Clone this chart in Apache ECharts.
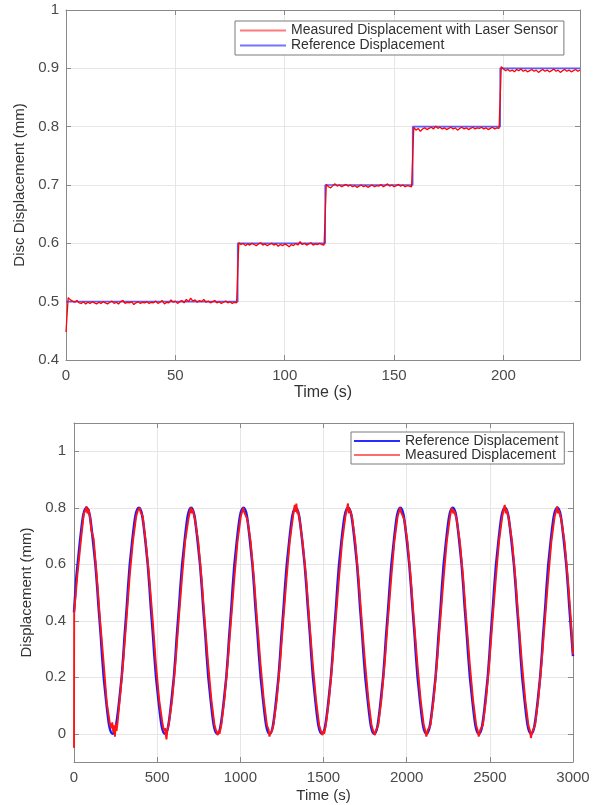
<!DOCTYPE html>
<html>
<head>
<meta charset="utf-8">
<script src="https://cdn.jsdelivr.net/npm/echarts@6/dist/echarts.min.js"></script>
<style>
html,body{margin:0;padding:0;background:#fff;}
#c{width:600px;height:805px;}
</style>
</head>
<body>
<div id="c"></div>
<script>
// ---------- Top chart: step response ----------
const stepSeriesNames = ['Measured Displacement with Laser Sensor', 'Reference Displacement'];
const stepReference = [[0,0.5],[78.5,0.5],[78.5,0.6],[118.5,0.6],[118.5,0.7],[158.5,0.7],[158.5,0.8],[198.5,0.8],[198.5,0.9],[235,0.9]];
// measured samples, one per second starting at t = 0 s
const stepMeasuredSampleSeconds = 1;
const stepMeasured = [
0.448,
0.507,0.503,0.501,0.499,0.502,0.498,0.497,0.500,0.496,0.499,
0.497,0.500,0.498,0.496,0.499,0.497,0.500,0.498,0.496,0.499,
0.501,0.497,0.499,0.496,0.500,0.502,0.497,0.499,0.498,0.500,
0.495,0.498,0.500,0.497,0.499,0.498,0.500,0.497,0.499,0.498,
0.501,0.497,0.499,0.502,0.496,0.499,0.498,0.503,0.499,0.501,
0.497,0.500,0.502,0.498,0.504,0.500,0.506,0.501,0.503,0.499,
0.502,0.500,0.504,0.499,0.501,0.498,0.500,0.502,0.498,0.500,
0.497,0.499,0.501,0.498,0.500,0.497,0.499,0.498,
0.601,0.598,0.600,0.596,0.599,0.597,0.600,0.598,0.596,0.599,
0.601,0.597,0.599,0.596,0.598,0.600,0.597,0.599,0.595,0.598,
0.596,0.599,0.597,0.594,0.598,0.596,0.600,0.597,0.603,0.598,
0.600,0.597,0.599,0.601,0.597,0.599,0.598,0.600,0.598,0.597,
0.701,0.697,0.695,0.699,0.702,0.698,0.700,0.697,0.699,0.701,
0.698,0.700,0.697,0.699,0.696,0.698,0.700,0.697,0.699,0.696,
0.698,0.700,0.697,0.699,0.698,0.701,0.697,0.699,0.702,0.698,
0.700,0.697,0.699,0.701,0.698,0.700,0.697,0.699,0.698,0.697,
0.799,0.794,0.797,0.792,0.796,0.798,0.795,0.797,0.799,0.796,
0.801,0.797,0.799,0.796,0.798,0.795,0.797,0.799,0.796,0.798,
0.794,0.797,0.799,0.796,0.798,0.795,0.797,0.799,0.796,0.798,
0.797,0.799,0.796,0.798,0.795,0.797,0.799,0.796,0.798,0.797,
0.903,0.899,0.896,0.898,0.895,0.897,0.894,0.898,0.896,0.899,
0.895,0.897,0.894,0.896,0.898,0.895,0.897,0.893,0.896,0.898,
0.895,0.897,0.894,0.896,0.899,0.895,0.897,0.893,0.896,0.898,
0.895,0.897,0.894,0.896,0.898,0.895,0.897
];

// ---------- Bottom chart: sinusoidal tracking ----------
const sineSeriesNames = ['Reference Displacement', 'Measured Displacement'];
const sineReference = [
[0,0.43],[36,0.683],[75,0.8],[114,0.683],[154,0.4],[193,0.117],[232,0],[272,0.117],
[311,0.4],[350,0.683],[390,0.8],[429,0.683],[468,0.4],[508,0.117],[547,0],[586,0.117],
[625,0.4],[665,0.683],[704,0.8],[743,0.683],[783,0.4],[822,0.117],[861,0],[901,0.117],
[940,0.4],[979,0.683],[1019,0.8],[1058,0.683],[1097,0.4],[1137,0.117],[1176,0],[1215,0.117],
[1254,0.4],[1294,0.683],[1333,0.8],[1372,0.683],[1412,0.4],[1451,0.117],[1490,0],[1530,0.117],
[1569,0.4],[1608,0.683],[1648,0.8],[1687,0.683],[1726,0.4],[1766,0.117],[1805,0],[1844,0.117],
[1883,0.4],[1923,0.683],[1962,0.8],[2001,0.683],[2041,0.4],[2080,0.117],[2119,0],[2159,0.117],
[2198,0.4],[2237,0.683],[2277,0.8],[2316,0.683],[2355,0.4],[2395,0.117],[2434,0],[2473,0.117],
[2512,0.4],[2552,0.683],[2591,0.8],[2630,0.683],[2670,0.4],[2709,0.117],[2748,0],[2788,0.117],
[2827,0.4],[2866,0.683],[2906,0.8],[2945,0.683],[2984,0.4],[3000,0.275]
];
const sineMeasured = [
[0,-0.05],[1,0.43],[20,0.56],[39,0.67],[59,0.78],[69,0.79],[75,0.805],[80,0.78],[89,0.795],[98,0.76],[104,0.72],[118,0.69],[138,0.55],[157,0.40],[177,0.26],[197,0.11],[216,0.035],[224,0.02],[230,0.04],[236,0.005],[241,0.03],[246,-0.01],[252,0.035],[256,0.01],[262,0.04],[275,0.12],[295,0.25],
[315,0.40],[335,0.56],[354,0.68],[374,0.77],[384,0.79],[394,0.80],[400,0.785],[404,0.79],[413,0.77],[433,0.67],[453,0.55],[472,0.41],[492,0.25],[512,0.12],[531,0.04],[541,0.01],[547,0.02],[551,0.0],[556,-0.02],[561,0.01],[571,0.04],[590,0.12],[610,0.25],
[629,0.40],[649,0.55],[668,0.68],[688,0.76],[698,0.79],[703,0.80],[708,0.78],[713,0.795],[727,0.76],[747,0.68],[767,0.55],[786,0.40],[806,0.25],[826,0.12],[845,0.03],[855,0.01],[865,-0.005],[870,0.01],[875,0.0],[885,0.03],[904,0.12],[924,0.25],
[944,0.40],[964,0.55],[983,0.68],[1003,0.77],[1013,0.79],[1018,0.80],[1023,0.785],[1032,0.79],[1042,0.76],[1062,0.68],[1082,0.55],[1101,0.40],[1121,0.25],[1141,0.12],[1160,0.03],[1170,0.015],[1175,-0.01],[1180,0.0],[1190,0.01],[1200,0.035],[1219,0.12],[1239,0.25],
[1258,0.40],[1278,0.55],[1297,0.68],[1317,0.77],[1327,0.81],[1332,0.785],[1337,0.815],[1342,0.78],[1347,0.79],[1356,0.76],[1376,0.67],[1396,0.55],[1415,0.40],[1435,0.25],[1455,0.12],[1474,0.03],[1484,0.01],[1489,0.015],[1494,-0.005],[1499,0.01],[1504,0.0],[1514,0.03],[1533,0.12],[1553,0.25],
[1573,0.40],[1593,0.55],[1612,0.68],[1632,0.77],[1642,0.80],[1647,0.815],[1652,0.78],[1657,0.795],[1671,0.77],[1691,0.68],[1711,0.55],[1730,0.40],[1750,0.25],[1770,0.12],[1789,0.03],[1799,0.01],[1809,-0.005],[1814,0.01],[1819,0.005],[1829,0.03],[1848,0.12],[1868,0.25],
[1887,0.40],[1907,0.55],[1926,0.68],[1946,0.77],[1956,0.79],[1961,0.80],[1966,0.785],[1971,0.79],[1985,0.76],[2005,0.68],[2025,0.55],[2044,0.40],[2064,0.25],[2084,0.12],[2103,0.03],[2113,0.01],[2118,-0.01],[2123,0.0],[2128,0.015],[2143,0.03],[2162,0.12],[2182,0.25],
[2202,0.40],[2222,0.55],[2241,0.68],[2261,0.77],[2271,0.80],[2276,0.805],[2281,0.78],[2286,0.79],[2300,0.76],[2320,0.68],[2340,0.55],[2359,0.40],[2379,0.25],[2399,0.12],[2418,0.03],[2428,0.01],[2433,-0.01],[2438,0.0],[2443,0.015],[2458,0.03],[2477,0.12],[2497,0.25],
[2516,0.40],[2536,0.55],[2555,0.68],[2575,0.77],[2585,0.80],[2590,0.81],[2595,0.78],[2600,0.795],[2614,0.76],[2634,0.68],[2654,0.55],[2673,0.40],[2693,0.25],[2713,0.12],[2732,0.03],[2742,0.01],[2747,-0.015],[2752,0.0],[2757,0.01],[2772,0.03],[2791,0.12],[2811,0.25],
[2831,0.40],[2851,0.55],[2870,0.68],[2890,0.77],[2900,0.79],[2905,0.805],[2910,0.78],[2915,0.79],[2929,0.76],[2949,0.68],[2969,0.55],[2988,0.40],[3000,0.28]
];

// ---------- Build ----------
const FONT = '"Liberation Sans", Arial, Helvetica, sans-serif';
const AX = '#8a8a8a';
const LBL = '#4a4a4a';
const GRIDC = '#e6e6e6';
const fmt = v => String(parseFloat(Number(v).toFixed(3)));

const stepMeasuredPairs = stepMeasured.map((v, i) => [i * stepMeasuredSampleSeconds, v]);

function baseAxis(extra) {
  return Object.assign({
    type: 'value',
    axisLine: { show: true, onZero: false, lineStyle: { color: AX, width: 1 } },
    axisTick: { show: true, inside: true, length: 5, lineStyle: { color: AX } },
    axisLabel: { show: true, color: LBL, fontSize: 15, fontFamily: FONT, formatter: fmt },
    splitLine: { show: true, lineStyle: { color: GRIDC, width: 1 } }
  }, extra);
}
function mirrorAxis(extra) {
  return Object.assign({
    type: 'value',
    axisLine: { show: true, onZero: false, lineStyle: { color: AX, width: 1 } },
    axisTick: { show: true, inside: true, length: 5, lineStyle: { color: AX } },
    axisLabel: { show: false },
    splitLine: { show: false }
  }, extra);
}

const chart = echarts.init(document.getElementById('c'));
chart.setOption({
  backgroundColor: '#fff',
  animation: false,
  grid: [
    { left: 66, top: 10, width: 514, height: 350, containLabel: false },
    { left: 74, top: 423, width: 499, height: 339, containLabel: false }
  ],
  xAxis: [
    baseAxis({ gridIndex: 0, position: 'bottom', min: 0, max: 235, interval: 50,
      axisLabel: { color: LBL, fontSize: 15, fontFamily: FONT, margin: 8, showMaxLabel: false, formatter: fmt },
      name: 'Time (s)', nameLocation: 'middle', nameGap: 25,
      nameTextStyle: { fontSize: 16, color: '#333', fontFamily: FONT } }),
    mirrorAxis({ gridIndex: 0, position: 'top', min: 0, max: 235, interval: 50 }),
    baseAxis({ gridIndex: 1, position: 'bottom', min: 0, max: 3000, interval: 500,
      axisLabel: { color: LBL, fontSize: 15, fontFamily: FONT, margin: 8, formatter: fmt },
      name: 'Time (s)', nameLocation: 'middle', nameGap: 26,
      nameTextStyle: { fontSize: 15, color: '#333', fontFamily: FONT } }),
    mirrorAxis({ gridIndex: 1, position: 'top', min: 0, max: 3000, interval: 500 })
  ],
  yAxis: [
    baseAxis({ gridIndex: 0, position: 'left', min: 0.4, max: 1, interval: 0.1,
      axisLabel: { color: LBL, fontSize: 15, fontFamily: FONT, margin: 7, formatter: fmt },
      name: 'Disc Displacement (mm)', nameLocation: 'middle', nameGap: 36,
      nameTextStyle: { fontSize: 15, color: '#333', fontFamily: FONT } }),
    mirrorAxis({ gridIndex: 0, position: 'right', min: 0.4, max: 1, interval: 0.1 }),
    baseAxis({ gridIndex: 1, position: 'left', min: -0.1, max: 1.1, splitNumber: 6,
      axisLabel: { color: LBL, fontSize: 15, fontFamily: FONT, margin: 8, showMinLabel: false, showMaxLabel: false, formatter: fmt },
      name: 'Displacement (mm)', nameLocation: 'middle', nameGap: 34,
      nameTextStyle: { fontSize: 15, color: '#333', fontFamily: FONT } }),
    mirrorAxis({ gridIndex: 1, position: 'right', min: -0.1, max: 1.1, splitNumber: 6 })
  ],
  legend: [
    {
      left: 235, top: 21, orient: 'vertical',
      data: [
        { name: stepSeriesNames[0], itemStyle: { color: '#ff7b7b' } },
        { name: stepSeriesNames[1], itemStyle: { color: '#7474ff' } }
      ],
      icon: 'rect', itemWidth: 46, itemHeight: 2, itemGap: 0,
      padding: [2, 6, 2, 5],
      backgroundColor: '#fff', borderColor: '#7a7a7a', borderWidth: 1,
      textStyle: { fontSize: 14, color: '#303030', fontFamily: FONT, lineHeight: 15 },
      selectedMode: false
    },
    {
      left: 351, top: 432, orient: 'vertical',
      data: [
        { name: sineSeriesNames[0], itemStyle: { color: '#2a2aff' } },
        { name: sineSeriesNames[1], itemStyle: { color: '#ff6a6a' } }
      ],
      icon: 'rect', itemWidth: 46, itemHeight: 2, itemGap: 0,
      padding: [2, 6, 2, 3],
      backgroundColor: '#fff', borderColor: '#7a7a7a', borderWidth: 1,
      textStyle: { fontSize: 14, color: '#303030', fontFamily: FONT, lineHeight: 14 },
      selectedMode: false
    }
  ],
  series: [
    { name: stepSeriesNames[1], type: 'line', xAxisIndex: 0, yAxisIndex: 0, data: stepReference,
      showSymbol: false, symbol: 'none', lineStyle: { color: '#5a5aff', width: 1.6 }, itemStyle: { color: '#5a5aff' } },
    { name: stepSeriesNames[0], type: 'line', xAxisIndex: 0, yAxisIndex: 0, data: stepMeasuredPairs,
      showSymbol: false, symbol: 'none', lineStyle: { color: '#ff0000', width: 1.3 }, itemStyle: { color: '#ff0000' } },
    { name: sineSeriesNames[0], type: 'line', xAxisIndex: 2, yAxisIndex: 2, data: sineReference, smooth: true,
      showSymbol: false, symbol: 'none', lineStyle: { color: '#1a1aff', width: 2.5 }, itemStyle: { color: '#1a1aff' } },
    { name: sineSeriesNames[1], type: 'line', xAxisIndex: 2, yAxisIndex: 2, data: sineMeasured,
      showSymbol: false, symbol: 'none', lineStyle: { color: '#ff1414', width: 1.9 }, itemStyle: { color: '#ff1414' } }
  ]
});
</script>
</body>
</html>
